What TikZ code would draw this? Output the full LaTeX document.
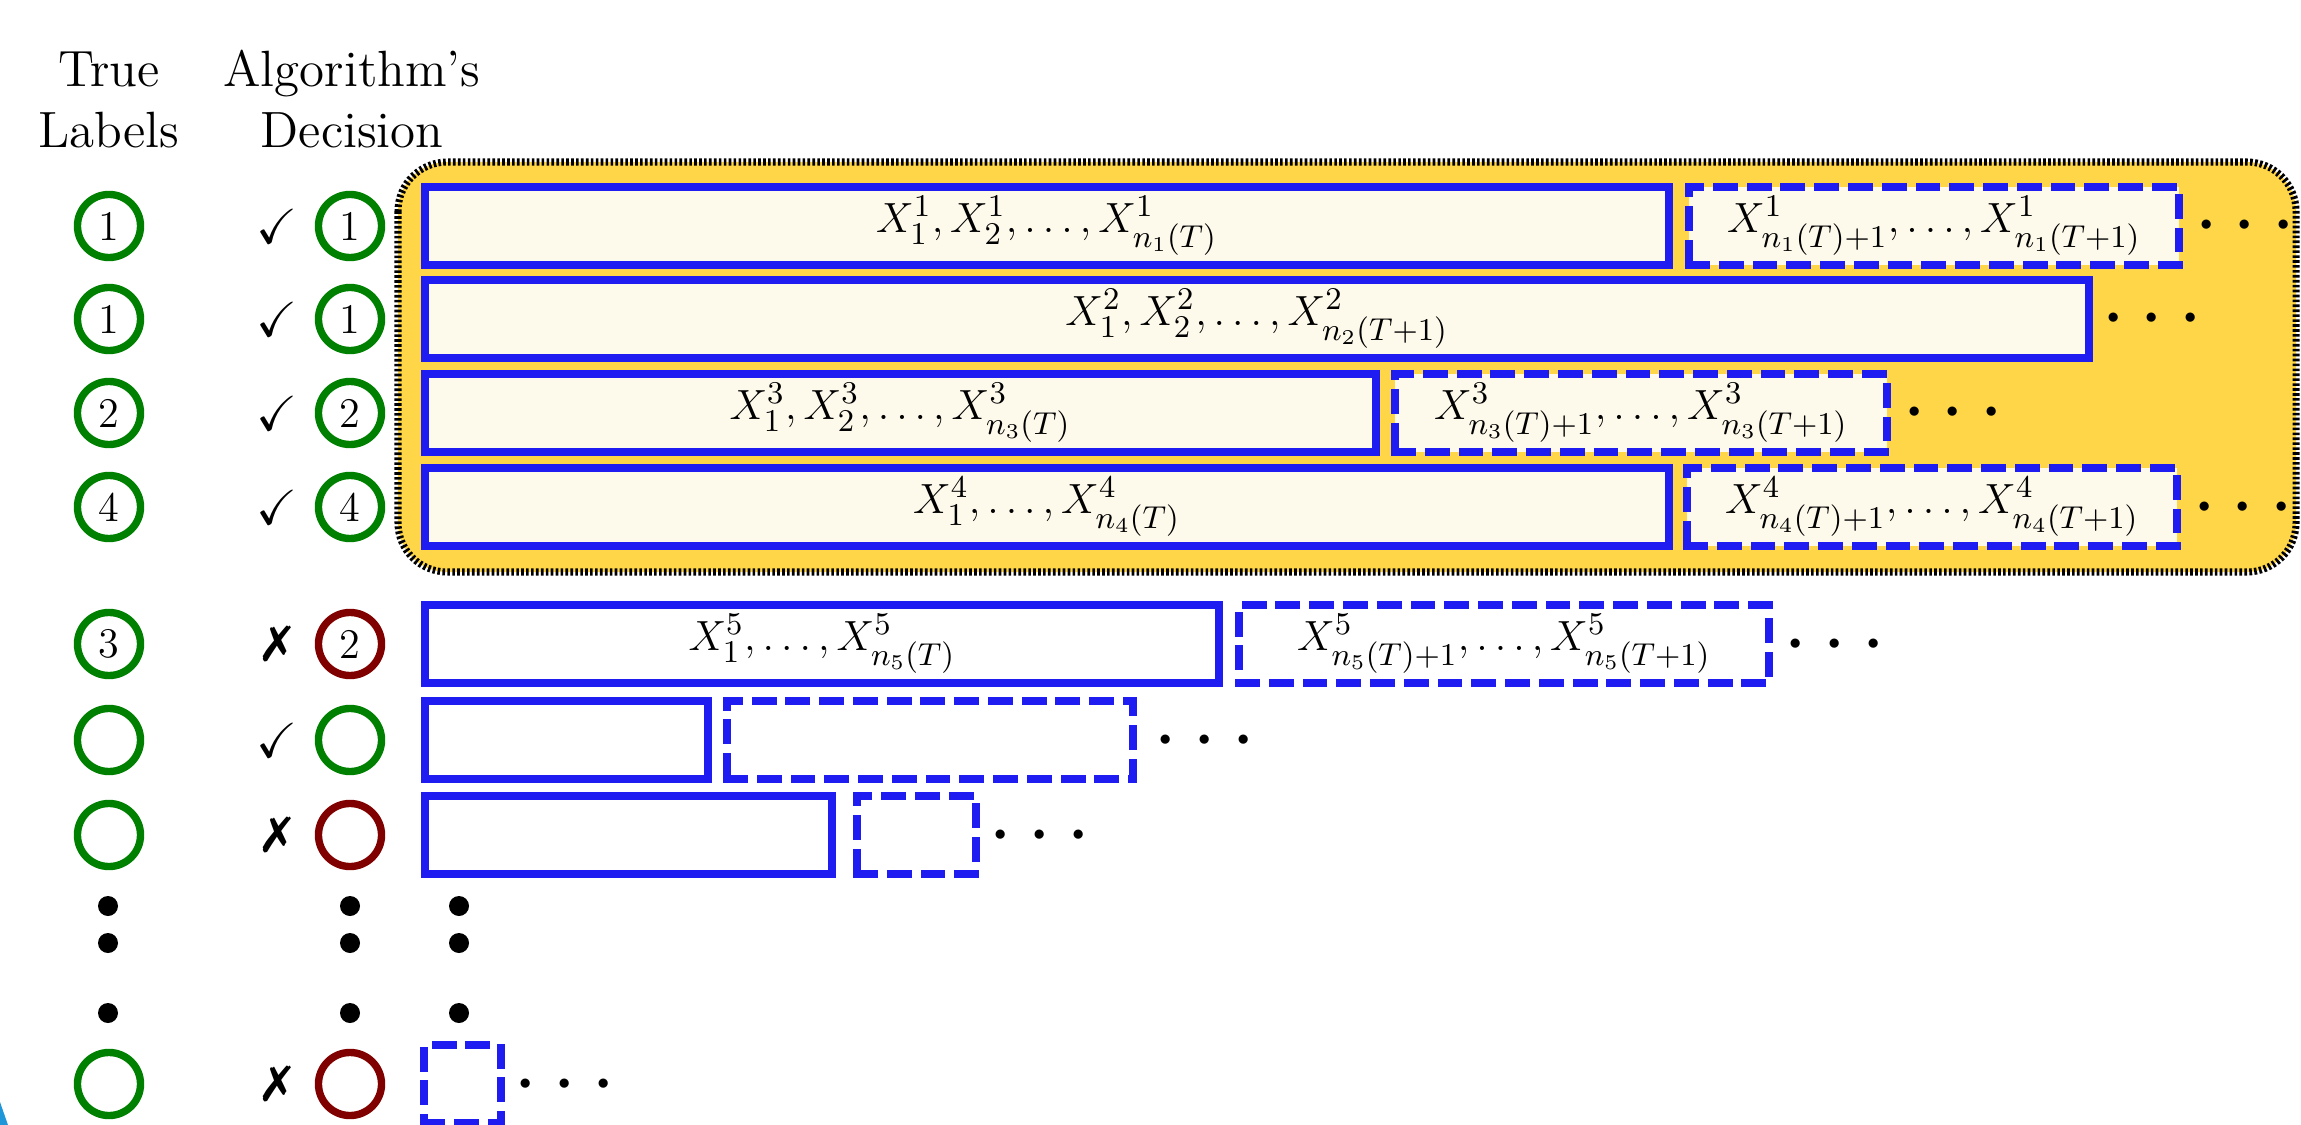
\documentclass[tikz,border=0pt]{standalone}
\usepackage{amssymb}
\usepackage{pifont}
\definecolor{ringgreen}{RGB}{0,128,0}
\definecolor{ringred}{RGB}{128,0,0}
\definecolor{boxblue}{RGB}{30,28,240}
\definecolor{cream}{RGB}{253,249,235}
\definecolor{gold}{RGB}{255,214,72}
\definecolor{edgecyan}{RGB}{30,150,215}
\tikzset{
  hdr/.style={anchor=base, inner sep=0, font=\fontsize{14.5}{17.4}\selectfont},
  truelab/.style={circle, draw=ringgreen, line width=2.1pt, minimum size=0.63cm, inner sep=0,
    font=\fontsize{12}{14}\selectfont},
  wronglab/.style={truelab, draw=ringred},
  tick/.style={inner sep=0, font=\fontsize{14}{16}\selectfont},
  seenbox/.style={draw=boxblue, line width=2.28pt, inner sep=0, outer sep=0, anchor=west,
    minimum height=0.77cm, font=\fontsize{12.8}{15}\selectfont},
  nextbox/.style={seenbox, dash pattern=on 4.8pt off 4.8pt, line cap=rect},
  filled/.style={fill=cream},
  more/.style={anchor=base, inner sep=0, font=\fontsize{24.3}{29}\selectfont},
  bigdot/.style={fill=black},
  block/.style={fill=gold, draw=black, line width=2pt,
    dash pattern=on 0.75pt off 0.65pt, rounded corners=14pt}
}
\begin{document}
\begin{tikzpicture}[x=0.01cm, y=-0.01cm]
\useasboundingbox (0,0) rectangle (2301,1125);

% column headings
\node[hdr] (h1a) at (109,87) {True};
\node[hdr] (h1b) at (109,148) {Labels};
\node[hdr] (h2a) at (352,87) {Algorithm's};
\node[hdr] (h2b) at (352,148) {Decision};

% block of correctly labelled sequences
\path[block] (398,162) rectangle (2296,572);

% true labels
\node[truelab] (t1) at (109,226) {1};
\node[truelab] (t2) at (109,319) {1};
\node[truelab] (t3) at (109,413) {2};
\node[truelab] (t4) at (109,507) {4};
\node[truelab] (t5) at (109,644) {3};
\node[truelab] (t6) at (109,740) {};
\node[truelab] (t7) at (109,835) {};
\node[truelab] (t8) at (109,1084) {};

% decisions
\node[tick] (k1) at (277,226) {\checkmark};
\node[tick] (k2) at (277,319) {\checkmark};
\node[tick] (k3) at (277,413) {\checkmark};
\node[tick] (k4) at (277,507) {\checkmark};
\node[tick] (k5) at (277,644) {\ding{55}};
\node[tick] (k6) at (277,740) {\checkmark};
\node[tick] (k7) at (277,835) {\ding{55}};
\node[tick] (k8) at (277,1084) {\ding{55}};

\node[truelab] (a1) at (350,226) {1};
\node[truelab] (a2) at (350,319) {1};
\node[truelab] (a3) at (350,413) {2};
\node[truelab] (a4) at (350,507) {4};
\node[wronglab] (a5) at (350,644) {2};
\node[truelab] (a6) at (350,740) {};
\node[wronglab] (a7) at (350,835) {};
\node[wronglab] (a8) at (350,1084) {};

% sequences
\node[seenbox, filled, minimum width=12.43cm] (s1) at (425,226) {$X^1_1, X^1_2, \ldots, X^1_{n_1(T)}$};
\node[nextbox, filled, minimum width=4.90cm] (n1) at (1689,226) {$X^1_{n_1(T)+1}, \ldots, X^1_{n_1(T+1)}$};
\node[more] (m1) at (2245,247) {$\cdots$};

\node[seenbox, filled, minimum width=16.63cm] (s2) at (425,319) {$X^2_1, X^2_2, \ldots, X^2_{n_2(T+1)}$};
\node[more] (m2) at (2152,340) {$\cdots$};

\node[seenbox, filled, minimum width=9.50cm] (s3) at (425,413) {$X^3_1, X^3_2, \ldots, X^3_{n_3(T)}$};
\node[nextbox, filled, minimum width=4.92cm] (n3) at (1395,413) {$X^3_{n_3(T)+1}, \ldots, X^3_{n_3(T+1)}$};
\node[more] (m3) at (1953,434) {$\cdots$};

\node[seenbox, filled, minimum width=12.43cm] (s4) at (425,507) {$X^4_1, \ldots, X^4_{n_4(T)}$};
\node[nextbox, filled, minimum width=4.90cm] (n4) at (1687,507) {$X^4_{n_4(T)+1}, \ldots, X^4_{n_4(T+1)}$};
\node[more] (m4) at (2243,528) {$\cdots$};

\node[seenbox, minimum width=7.94cm] (s5) at (425,644) {$X^5_1, \ldots, X^5_{n_5(T)}$};
\node[nextbox, minimum width=5.30cm] (n5) at (1239,644) {$X^5_{n_5(T)+1}, \ldots, X^5_{n_5(T+1)}$};
\node[more] (m5) at (1835,665) {$\cdots$};

\node[seenbox, minimum width=2.83cm] (s6) at (425,740) {};
\node[nextbox, minimum width=4.06cm] (n6) at (727,740) {};
\node[more] (m6) at (1205,761) {$\cdots$};

\node[seenbox, minimum width=4.07cm] (s7) at (425,835) {};
\node[nextbox, minimum width=1.19cm] (n7) at (857,835) {};
\node[more] (m7) at (1040,856) {$\cdots$};

\node[nextbox, minimum width=0.77cm] (n8) at (424,1084) {};
\node[more] (m8) at (565,1105) {$\cdots$};

% vertical ellipses
\foreach \c in {108,350,459} {
  \fill[bigdot] (\c,906) circle (10);
  \fill[bigdot] (\c,943) circle (10);
  \fill[bigdot] (\c,1013) circle (10);
}

% sliver at the lower left corner
\fill[edgecyan] (0,1102) -- (8,1125) -- (0,1125) -- cycle;
\end{tikzpicture}
\end{document}
